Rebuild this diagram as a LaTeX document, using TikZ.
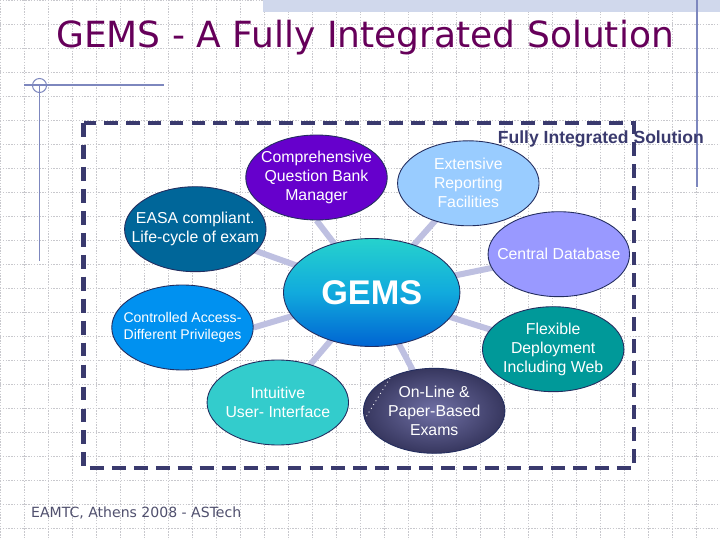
\documentclass[tikz,border=0pt]{standalone}
\usepackage{fontspec}
\setmainfont{Liberation Sans}
\newfontfamily\slidefont{DejaVu Sans}
\usetikzlibrary{shapes.geometric,backgrounds}
\definecolor{titlepurple}{RGB}{102,0,90}
\definecolor{framenavy}{RGB}{58,58,110}
\definecolor{gridgray}{RGB}{200,200,205}
\definecolor{decoblue}{RGB}{125,135,190}
\definecolor{bandblue}{RGB}{208,216,236}
\definecolor{footgray}{RGB}{80,80,110}
\definecolor{spokegray}{RGB}{190,192,225}
\definecolor{bubedge}{RGB}{35,45,95}
\definecolor{qbmfill}{RGB}{102,0,204}
\definecolor{repfill}{RGB}{153,204,255}
\definecolor{easafill}{RGB}{0,102,153}
\definecolor{dbfill}{RGB}{153,153,255}
\definecolor{ctrlfill}{RGB}{0,145,240}
\definecolor{uifill}{RGB}{51,204,204}
\definecolor{flexfill}{RGB}{0,153,153}
\definecolor{gemstop}{RGB}{38,210,205}
\definecolor{gemsmid}{RGB}{17,170,221}
\definecolor{gemsbot}{RGB}{0,100,210}
\definecolor{examlight}{RGB}{112,112,165}
\definecolor{examdark}{RGB}{55,55,95}

\begin{document}
\begin{tikzpicture}[x=0.02cm, y=-0.02cm,
    gridline/.style={draw=gridgray, line width=0.4pt, dash pattern=on 0.8pt off 0.8pt},
    deco/.style={draw=decoblue, line width=0.6pt},
    bubble/.style={draw=bubedge, ellipse, line width=0.5pt, minimum width=2.83cm, minimum height=1.7cm, inner sep=0pt},
    bubtext/.style={text=white, align=center, font=\fontsize{9}{10.8}\selectfont},
    spoke/.style={draw=spokegray, line width=3.4pt},
    frame/.style={draw=framenavy, line width=2.5pt, dash pattern=on 7.9pt off 4.6pt}
  ]
  \useasboundingbox (0,0) rectangle (720,540);
  \begin{scope}[on background layer]
    \fill[white] (0,0) rectangle (720,540);
    \foreach \gx in {0,24,...,720} \draw[gridline] (\gx,0) -- (\gx,540);
    \foreach \gy in {0,24,...,540} \draw[gridline] (0,\gy) -- (720,\gy);
  \end{scope}

  % slide decoration
  \fill[bandblue] (263,0) rectangle (720,12.5);
  \draw[deco] (697,0) -- (697,187);
  \draw[deco] (24,85) -- (164,85);
  \draw[deco] (39.5,85) -- (39.5,261);
  \draw[deco] (39.5,85.5) circle (7);

  \node[anchor=base, text=titlepurple, font=\slidefont\fontsize{20.5}{24}\selectfont] (title) at (365,47.3) {GEMS - A Fully Integrated Solution};
  \node[anchor=base west, text=footgray, font=\slidefont\fontsize{8}{10}\selectfont] (foot) at (25,517.3) {EAMTC, Athens 2008 - ASTech};

  \node[anchor=base east, text=framenavy, font=\bfseries\fontsize{10}{12}\selectfont] (tag) at (710,143.3) {Fully Integrated Solution};
  \draw[frame] (83.5,123) rectangle (634,468);

  % bubbles
  \node[bubble, fill=qbmfill, label={[bubtext]center:{Comprehensive\\Question Bank\\Manager}}] (qbm) at (316.5,177.5) {};
  \node[bubble, fill=repfill, label={[bubtext]center:{Extensive\\Reporting\\Facilities}}] (rep) at (468.3,183.3) {};
  \node[bubble, fill=easafill, label={[bubtext]center:{EASA compliant.\\Life-cycle of exam}}] (easa) at (195.3,229.2) {};
  \node[bubble, fill=dbfill, label={[bubtext]center:{Central Database}}] (db) at (558.8,254.2) {};
  \node[bubble, fill=ctrlfill, label={[bubtext, font=\fontsize{8}{9.6}\selectfont]center:{Controlled Access-\\Different Privileges}}] (ctrl) at (182.5,327.5) {};
  \node[bubble, fill=uifill, label={[bubtext]center:{Intuitive\\User- Interface}}] (ui) at (277.8,402.5) {};
  \node[bubble, fill=flexfill, label={[bubtext]center:{Flexible\\Deployment\\Including Web}}] (flex) at (553.2,349.2) {};
  \node[bubble, inner color=examlight, outer color=examdark, label={[bubtext]center:{On-Line \&\\Paper-Based\\Exams}}] (exam) at (434.2,410.8) {};
  \draw[white, line width=0.5pt, dotted] (390,378) -- (366,417);

  \node[bubble, minimum width=3.53cm, minimum height=2.16cm, top color=gemstop, bottom color=gemsbot, middle color=gemsmid, text=white, font=\bfseries\fontsize{19.5}{22}\selectfont] (gems) at (371.7,292.5) {GEMS};

  \begin{scope}[on background layer]
    \draw[spoke] (gems.center) -- (qbm.south);
    \draw[spoke] (gems.center) -- (rep.center);
    \draw[spoke] (gems.center) -- (easa.center);
    \draw[spoke] (gems.center) -- (db.center);
    \draw[spoke] (gems.center) -- (ctrl.east);
    \draw[spoke] (gems.center) -- (ui.center);
    \draw[spoke] (gems.center) -- (exam.center);
    \draw[spoke] (gems.center) -- (flex.center);
  \end{scope}
\end{tikzpicture}
\end{document}
